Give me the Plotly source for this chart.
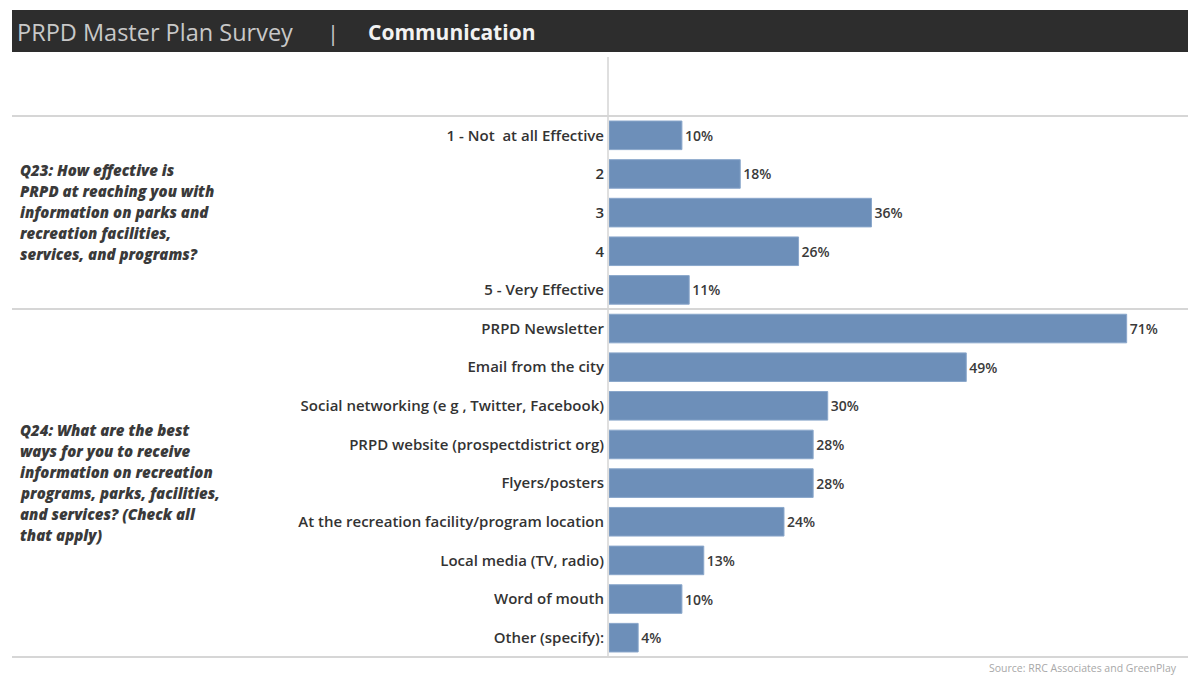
import plotly.graph_objects as go

# Survey responses (percent of respondents), top to bottom
categories = [
    "1 - Not  at all Effective", "2", "3", "4", "5 - Very Effective",
    "PRPD Newsletter", "Email from the city",
    "Social networking (e g , Twitter, Facebook)",
    "PRPD website (prospectdistrict org)", "Flyers/posters",
    "At the recreation facility/program location",
    "Local media (TV, radio)", "Word of mouth", "Other (specify):",
]
values = [10, 18, 36, 26, 11, 71, 49, 30, 28, 28, 24, 13, 10, 4]

q23_lines = ["Q23: How effective is", "PRPD at reaching you with", "information on parks and",
             "recreation facilities,", "services, and programs?"]
q24_lines = ["Q24: What are the best", "ways for you to receive", "information on recreation",
             "programs, parks, facilities,", "and services? (Check all", "that apply)"]

W, H = 1188, 676
L, R, T, B = 609, 1185, 116, 657  # plot area in pixels
FONT = "Open Sans"


def px(x):
    return (x - L) / (R - L)


def py(y):
    return (B - y) / (B - T)


fig = go.Figure(go.Bar(
    y=list(range(len(categories))),
    x=values,
    orientation="h",
    width=0.74,
    marker=dict(color="#6d8fb9", line=dict(color="#8aa7cb", width=1)),
    text=[f"{v}%" for v in values],
    textposition="outside",
    textfont=dict(family=FONT, size=14, color="#3a3a3a", weight=600),
    cliponaxis=False,
    hoverinfo="skip",
))

shapes = [
    # header band
    dict(type="rect", xref="paper", yref="paper", x0=px(12), x1=px(1188), y0=py(52), y1=py(10),
         fillcolor="#2d2d2d", line=dict(width=0), layer="below"),
    # vertical axis line
    dict(type="line", xref="paper", yref="paper", x0=px(608), x1=px(608), y0=py(657), y1=py(57),
         line=dict(color="#d4d4d4", width=1.5)),
]
# section separators
for yy in (116, 309, 657):
    shapes.append(dict(type="line", xref="paper", yref="paper", x0=px(12), x1=px(1188),
                       y0=py(yy), y1=py(yy), line=dict(color="#d6d6d6", width=2)))

annotations = [
    dict(text="PRPD Master Plan Survey", xref="paper", yref="paper", x=px(15), y=py(32),
         xanchor="left", yanchor="middle", showarrow=False,
         font=dict(family=FONT, size=23.5, color="#c8c8c8")),
    dict(text="|", xref="paper", yref="paper", x=px(333), y=py(32),
         xanchor="center", yanchor="middle", showarrow=False,
         font=dict(family=FONT, size=22, color="#c8c8c8")),
    dict(text="<b>Communication</b>", xref="paper", yref="paper", x=px(366), y=py(32),
         xanchor="left", yanchor="middle", showarrow=False,
         font=dict(family=FONT, size=21, color="#f2f2f2")),
    dict(text="Source: RRC Associates and GreenPlay", xref="paper", yref="paper", x=px(987), y=py(668),
         xanchor="left", yanchor="middle", showarrow=False,
         font=dict(family=FONT, size=10.5, color="#a8a8a8")),
]

# question text, one annotation per line for Tableau-like leading
for lines, y_first in ((q23_lines, 170), (q24_lines, 430)):
    for i, line in enumerate(lines):
        annotations.append(dict(
            text=f"<i>{line}</i>", xref="paper", yref="paper", x=px(18), y=py(y_first + 21 * i),
            xanchor="left", yanchor="middle", align="left", showarrow=False,
            font=dict(family=FONT, size=15, color="#3a3a3a", weight=800)))

fig.update_layout(
    width=W, height=H,
    margin=dict(l=L, r=W - R, t=T, b=H - B, pad=0),
    paper_bgcolor="white", plot_bgcolor="white",
    showlegend=False,
    shapes=shapes,
    annotations=annotations,
    xaxis=dict(range=[0, 79], visible=False, fixedrange=True),
    yaxis=dict(
        range=[len(categories) - 0.5, -0.5],
        tickvals=list(range(len(categories))),
        ticktext=categories,
        ticks="", showgrid=False, zeroline=False, showline=False,
        ticklabelstandoff=4,
        tickfont=dict(family=FONT, size=15, color="#333333", weight=600),
        fixedrange=True,
    ),
)

fig.write_html("out.html")
